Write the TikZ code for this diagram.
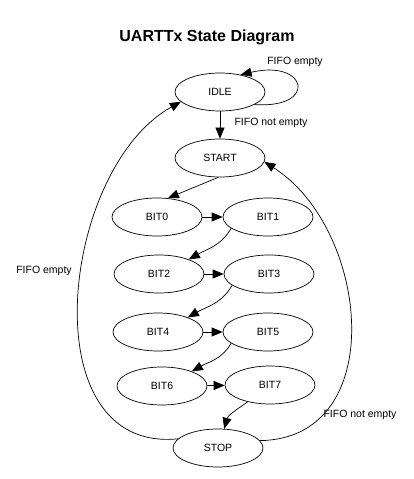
\documentclass[tikz,border=0pt]{standalone}
\usepackage{fontspec}
\setmainfont{Liberation Sans}
\usepackage{tikz}
\usetikzlibrary{positioning, arrows.meta, shapes.geometric}

\begin{document}
\begin{tikzpicture}[
    x=1pt, y=1pt,
    state/.style={ellipse, draw, line width=0.7pt, minimum width=90pt, minimum height=38pt, inner sep=0pt, font=\fontsize{10.5}{12}\selectfont},
    lbl/.style={font=\fontsize{10.5}{12}\selectfont, inner sep=1pt},
    arr/.style={-{Triangle[length=11pt, width=9pt]}, line width=0.7pt},
]
\useasboundingbox (0,0) rectangle (414,479);

\node[font=\fontsize{16}{18}\selectfont\bfseries] (title) at (207, 442) {UARTTx State Diagram};

\node[state] (idle)  at (220, 387) {IDLE};
\node[state] (start) at (220, 321) {START};
\node[state] (bit0)  at (157, 262) {BIT0};
\node[state] (bit1)  at (268, 262) {BIT1};
\node[state] (bit2)  at (159, 205) {BIT2};
\node[state] (bit3)  at (269, 205) {BIT3};
\node[state] (bit4)  at (158, 147) {BIT4};
\node[state] (bit5)  at (268, 147) {BIT5};
\node[state] (bit6)  at (162, 93)  {BIT6};
\node[state] (bit7)  at (270, 94)  {BIT7};
\node[state] (stop)  at (218, 31)  {STOP};

% idle loop
\draw[arr] (idle.-20) .. controls (318, 370) and (308, 420) .. (idle.40);
\node[lbl] (lidle) at (295, 417) {FIFO empty};

\draw[arr] (idle) -- (start);
\node[lbl] (lstart) at (271, 356) {FIFO not empty};

\draw[arr] (start.265) -- (bit0.60);

% bit chain
\draw[arr] (bit0) -- (bit1);
\draw[arr] (bit1.197) to[out=240, in=30] (bit2.26);
\draw[arr] (bit2) -- (bit3);
\draw[arr] (bit3.197) to[out=240, in=30] (bit4.26);
\draw[arr] (bit4) -- (bit5);
\draw[arr] (bit5.197) to[out=240, in=30] (bit6.26);
\draw[arr] (bit6) -- (bit7);
\draw[arr] (bit7.217) to[out=215, in=75] (stop.72);

% back edges
\draw[arr] (stop.167) .. controls (30, 25) and (60, 310) .. (idle.194);
\node[lbl] (lempty) at (44, 208) {FIFO empty};

\draw[arr] (stop.10) .. controls (390, 40) and (370, 250) .. (start.355);
\node[lbl] (lnotempty) at (360, 64) {FIFO not empty};

\end{tikzpicture}
\end{document}
